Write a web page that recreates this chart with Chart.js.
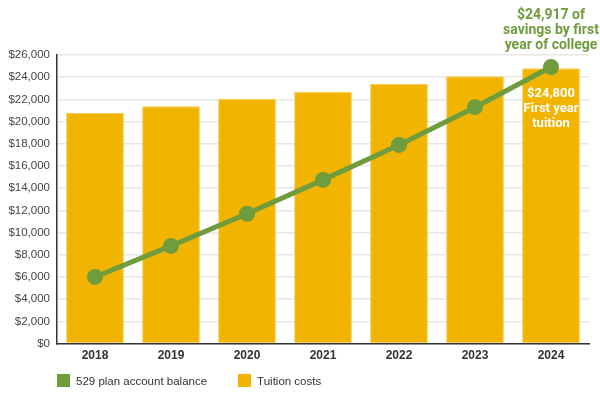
<!DOCTYPE html>
<html>
<head>
<meta charset="utf-8">
<script src="https://cdn.jsdelivr.net/npm/chart.js@4/dist/chart.umd.min.js"></script>
<style>
  html, body { margin: 0; padding: 0; background: #fff; }
  #wrap { position: relative; width: 600px; height: 395px; }
  #legend { position: absolute; left: 57px; top: 374px; font: 11.5px "Liberation Sans", Arial, sans-serif; color: #333; }
  #legend span.item { display: inline-flex; align-items: center; margin-right: 31px; }
  #legend span.box { display: inline-block; width: 13px; height: 13px; margin-right: 6px; }
</style>
</head>
<body>
<div id="wrap">
  <canvas id="chart" width="600" height="395"></canvas>
  <div id="legend"></div>
</div>
<script>
const years = ["2018", "2019", "2020", "2021", "2022", "2023", "2024"];
const balance = [6000, 8800, 11700, 14750, 17900, 21300, 24917];
const tuition = [20770, 21393, 22035, 22696, 23377, 24078, 24800];
const yTicks = [0, 26000, 2000]; // min, max, step

const green = "#6f9c3d";
const gold = "#f1b400";

const labelPlugin = {
  id: "labels",
  afterDatasetsDraw(chart) {
    const ctx = chart.ctx;
    const x = chart.scales.x.getPixelForValue(years.length - 1);
    const yTop = chart.scales.y.getPixelForValue(tuition[tuition.length - 1]);
    ctx.save();
    ctx.textAlign = "center";
    ctx.textBaseline = "middle";
    ctx.font = "bold 14px Roboto, 'Liberation Sans', Arial, sans-serif";
    ctx.fillStyle = green;
    ["$24,917 of", "savings by first", "year of college"].forEach((t, i) => {
      ctx.fillText(t, x, 15 + i * 15);
    });
    ctx.font = "bold 13px Roboto, 'Liberation Sans', Arial, sans-serif";
    ctx.fillStyle = "#fff";
    ["$24,800", "First year", "tuition"].forEach((t, i) => {
      ctx.fillText(t, x, yTop + 25 + i * 15);
    });
    ctx.restore();
  },
};

new Chart(document.getElementById("chart").getContext("2d"), {
  data: {
    labels: years,
    datasets: [
      {
        type: "line",
        label: "529 plan account balance",
        data: balance,
        borderColor: green,
        backgroundColor: green,
        borderWidth: 5,
        pointRadius: 5.5,
        pointHoverRadius: 5.5,
        order: 0,
      },
      {
        type: "bar",
        label: "Tuition costs",
        data: tuition,
        backgroundColor: gold,
        borderColor: "#f5cc55",
        borderWidth: 1,
        categoryPercentage: 0.76,
        barPercentage: 1,
        order: 1,
      },
    ],
  },
  options: {
    responsive: false,
    animation: false,
    layout: { padding: { top: 55, right: 11, bottom: 27, left: 0 } },
    plugins: {
      legend: { display: false },
      tooltip: { enabled: false },
    },
    scales: {
      x: {
        grid: { display: false, drawTicks: false },
        border: { color: "#333", width: 1.5 },
        ticks: {
          color: "#333",
          padding: 5,
          font: { family: "'Liberation Sans', Arial, sans-serif", size: 12, weight: "bold" },
        },
      },
      y: {
        min: yTicks[0],
        max: yTicks[1],
        afterFit(scale) { scale.width = 57; },
        grid: { color: "#e6e6e6", lineWidth: 1.5, drawTicks: false },
        border: { color: "#333", width: 1.5 },
        ticks: {
          stepSize: yTicks[2],
          color: "#444",
          padding: 7,
          font: { family: "'Liberation Sans', Arial, sans-serif", size: 11.5 },
          callback: (v) => "$" + v.toLocaleString("en-US"),
        },
      },
    },
  },
  plugins: [labelPlugin],
});

const legend = document.getElementById("legend");
[["529 plan account balance", green], ["Tuition costs", gold]].forEach(([name, c]) => {
  legend.innerHTML += `<span class="item"><span class="box" style="background:${c}"></span>${name}</span>`;
});
</script>
</body>
</html>
